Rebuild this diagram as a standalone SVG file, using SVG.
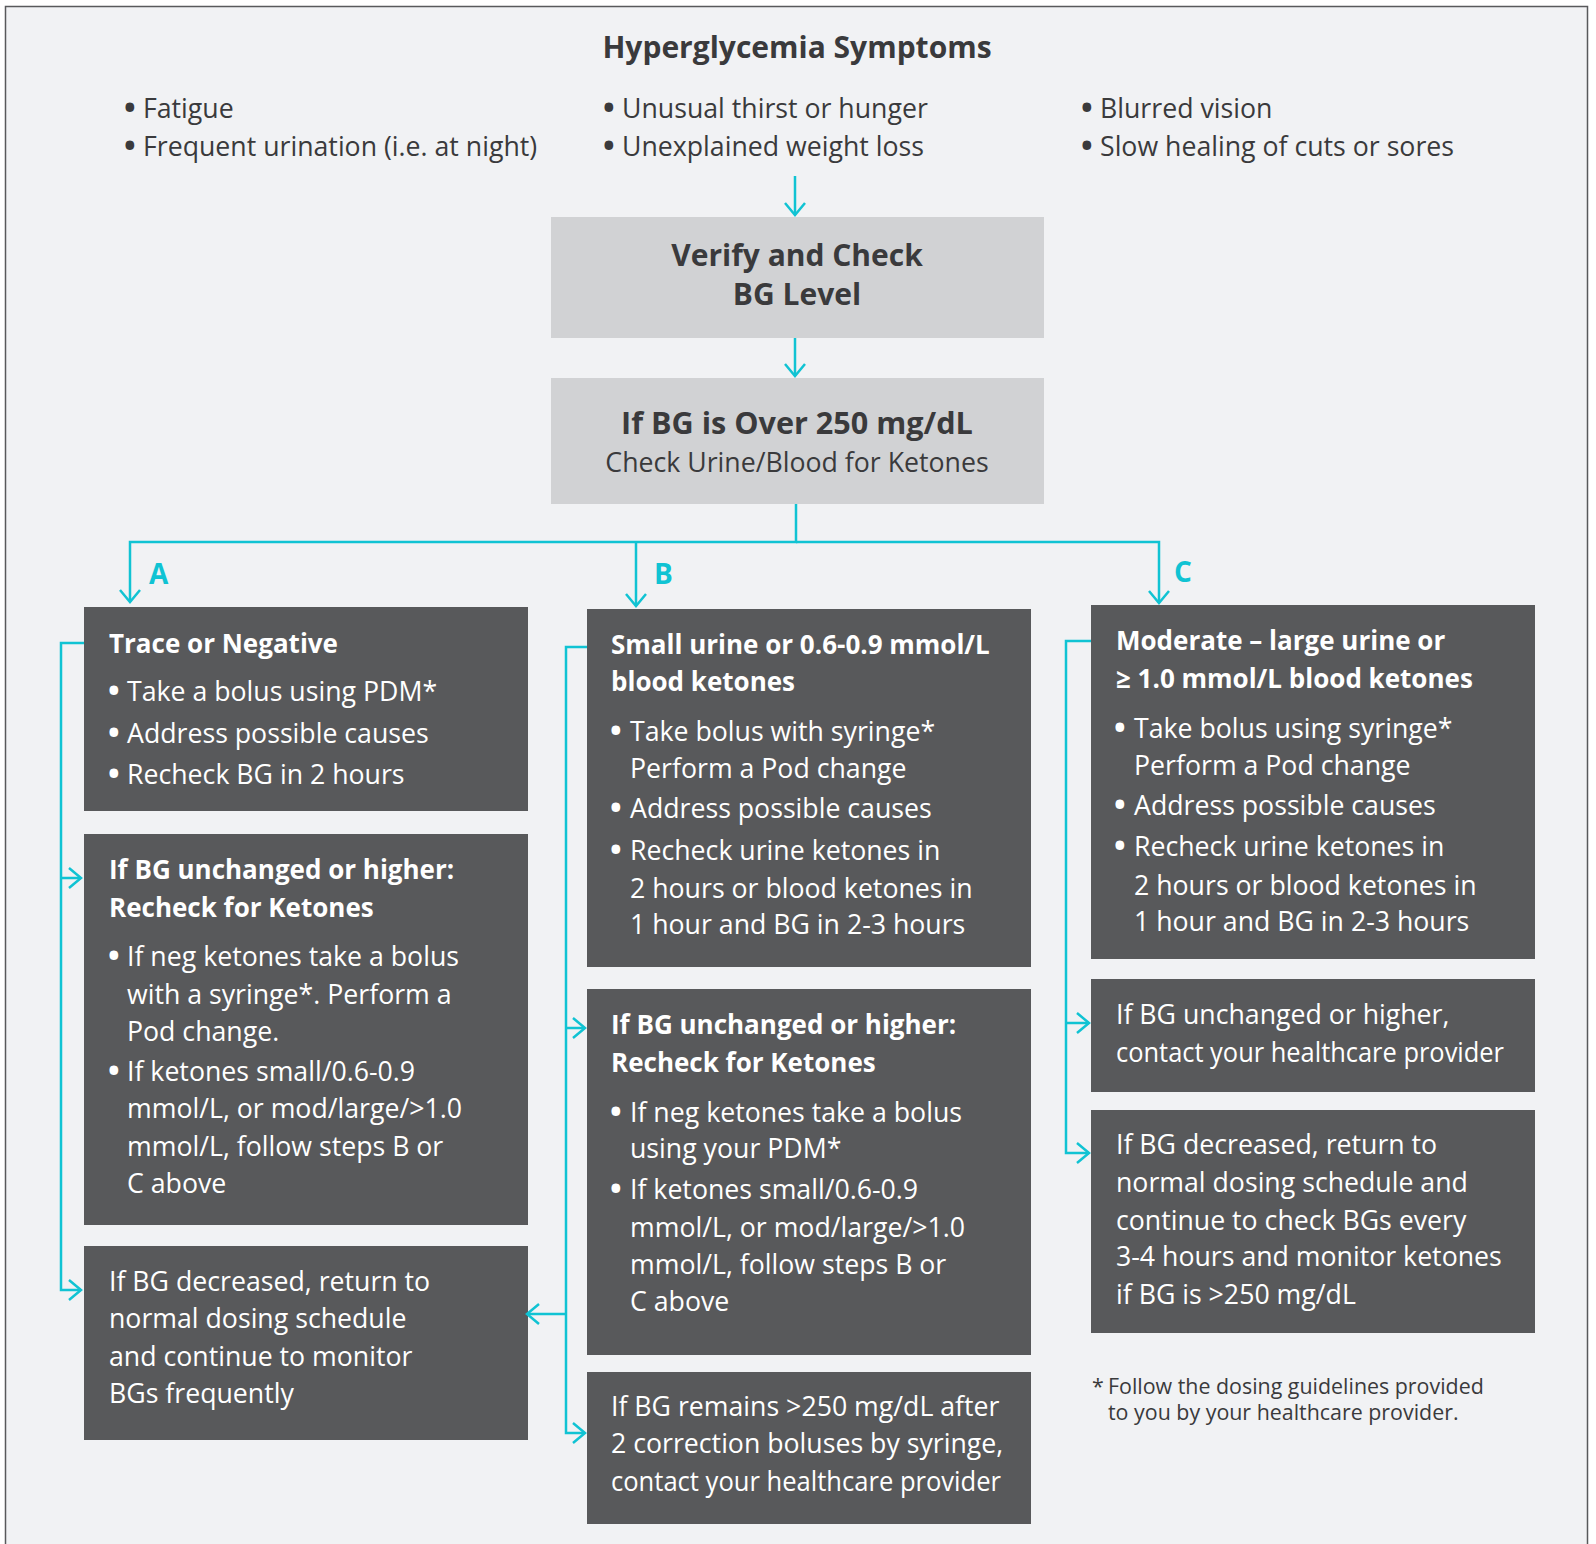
<svg xmlns="http://www.w3.org/2000/svg" width="1596" height="1544" viewBox="0 0 1596 1544">
<defs>
<style>
text{transform:translateY(1px)}
.bg{fill:#f1f2f4;stroke:#58595b;stroke-width:1.5}
.lb{fill:#d1d2d4}
.dk{fill:#58595b}
.t{font-family:"Open Sans","Liberation Sans",sans-serif;font-size:26.7px;fill:#3a3a3c}
.w{font-family:"Open Sans","Liberation Sans",sans-serif;font-size:26.7px;fill:#ffffff}
.wb{font-family:"Open Sans","Liberation Sans",sans-serif;font-size:26px;font-weight:700;fill:#ffffff}
.hb{font-family:"Open Sans","Liberation Sans",sans-serif;font-size:30px;font-weight:700;fill:#3a3a3c}
.fn{font-family:"Open Sans","Liberation Sans",sans-serif;font-size:21.4px;fill:#3a3a3c}
.lab{font-family:"Open Sans","Liberation Sans",sans-serif;font-size:28px;font-weight:700;fill:#10c3d3}
.b{font-size:31px;font-weight:700}
.c{fill:none;stroke:#10c3d3;stroke-width:2.5;marker-end:url(#arr)}
</style>
<marker id="arr" markerUnits="userSpaceOnUse" markerWidth="16" markerHeight="26" viewBox="-14 -13 16 26" refX="0" refY="0" orient="auto" overflow="visible">
<path d="M-12,-10 L0,0 L-12,10" fill="none" stroke="#10c3d3" stroke-width="2.5"/>
</marker>
</defs>
<rect x="0" y="0" width="1596" height="1544" fill="#ffffff"/>
<rect class="bg" x="5.5" y="6.5" width="1582" height="1560"/>

<g id="symptoms">
<text class="hb" x="797" y="57" text-anchor="middle">Hyperglycemia Symptoms</text>
<text class="t"><tspan class="b" x="124" y="117">•</tspan><tspan x="143" y="117">Fatigue</tspan><tspan class="b" x="124" y="155">•</tspan><tspan x="143" y="155">Frequent urination (i.e. at night)</tspan></text>
<text class="t"><tspan class="b" x="603" y="117">•</tspan><tspan x="622" y="117">Unusual thirst or hunger</tspan><tspan class="b" x="603" y="155">•</tspan><tspan x="622" y="155">Unexplained weight loss</tspan></text>
<text class="t"><tspan class="b" x="1081" y="117">•</tspan><tspan x="1100" y="117">Blurred vision</tspan><tspan class="b" x="1081" y="155">•</tspan><tspan x="1100" y="155">Slow healing of cuts or sores</tspan></text>
</g>

<g id="verify">
<rect class="lb" x="551" y="217" width="493" height="121"/>
<text class="hb" text-anchor="middle"><tspan x="797" y="265">Verify and Check</tspan><tspan x="797" y="304">BG Level</tspan></text>
</g>

<g id="over250">
<rect class="lb" x="551" y="378" width="493" height="126"/>
<text class="hb" x="797" y="433" text-anchor="middle" style="font-size:30.6px">If BG is Over 250 mg/dL</text>
<text class="t" x="797" y="471" text-anchor="middle">Check Urine/Blood for Ketones</text>
</g>

<g id="labels">
<text class="lab" x="149" y="583">A</text>
<text class="lab" x="654" y="583">B</text>
<text class="lab" x="1174" y="581">C</text>
</g>

<g id="a1">
<rect class="dk" x="84" y="607" width="444" height="204"/>
<text class="wb" x="109" y="652">Trace or Negative</text>
<text class="w"><tspan class="b" x="108" y="700">•</tspan><tspan x="127" y="700">Take a bolus using PDM*</tspan><tspan class="b" x="108" y="742">•</tspan><tspan x="127" y="742">Address possible causes</tspan><tspan class="b" x="108" y="783">•</tspan><tspan x="127" y="783">Recheck BG in 2 hours</tspan></text>
</g>

<g id="a2">
<rect class="dk" x="84" y="834" width="444" height="391"/>
<text class="wb"><tspan x="109" y="878">If BG unchanged or higher:</tspan><tspan x="109" y="916">Recheck for Ketones</tspan></text>
<text class="w"><tspan class="b" x="108" y="965">•</tspan><tspan x="127" y="965">If neg ketones take a bolus</tspan><tspan x="127" y="1003">with a syringe*. Perform a</tspan><tspan x="127" y="1040">Pod change.</tspan><tspan class="b" x="108" y="1080">•</tspan><tspan x="127" y="1080">If ketones small/0.6-0.9</tspan><tspan x="127" y="1117">mmol/L, or mod/large/&gt;1.0</tspan><tspan x="127" y="1155">mmol/L, follow steps B or</tspan><tspan x="127" y="1192">C above</tspan></text>
</g>

<g id="a3">
<rect class="dk" x="84" y="1246" width="444" height="194"/>
<text class="w"><tspan x="109" y="1290">If BG decreased, return to</tspan><tspan x="109" y="1327">normal dosing schedule</tspan><tspan x="109" y="1365">and continue to monitor</tspan><tspan x="109" y="1402">BGs frequently</tspan></text>
</g>

<g id="b1">
<rect class="dk" x="587" y="609" width="444" height="358"/>
<text class="wb"><tspan x="611" y="653">Small urine or 0.6-0.9 mmol/L</tspan><tspan x="611" y="690">blood ketones</tspan></text>
<text class="w"><tspan class="b" x="610" y="740">•</tspan><tspan x="630" y="740">Take bolus with syringe*</tspan><tspan x="630" y="777">Perform a Pod change</tspan><tspan class="b" x="610" y="817">•</tspan><tspan x="630" y="817">Address possible causes</tspan><tspan class="b" x="610" y="859">•</tspan><tspan x="630" y="859">Recheck urine ketones in</tspan><tspan x="630" y="897">2 hours or blood ketones in</tspan><tspan x="630" y="933">1 hour and BG in 2-3 hours</tspan></text>
</g>

<g id="b2">
<rect class="dk" x="587" y="989" width="444" height="366"/>
<text class="wb"><tspan x="611" y="1033">If BG unchanged or higher:</tspan><tspan x="611" y="1071">Recheck for Ketones</tspan></text>
<text class="w"><tspan class="b" x="610" y="1121">•</tspan><tspan x="630" y="1121">If neg ketones take a bolus</tspan><tspan x="630" y="1157">using your PDM*</tspan><tspan class="b" x="610" y="1198">•</tspan><tspan x="630" y="1198">If ketones small/0.6-0.9</tspan><tspan x="630" y="1236">mmol/L, or mod/large/&gt;1.0</tspan><tspan x="630" y="1273">mmol/L, follow steps B or</tspan><tspan x="630" y="1310">C above</tspan></text>
</g>

<g id="b3">
<rect class="dk" x="587" y="1372" width="444" height="152"/>
<text class="w"><tspan x="611" y="1415">If BG remains &gt;250 mg/dL after</tspan><tspan x="611" y="1452">2 correction boluses by syringe,</tspan></text>
<text class="w" x="611" y="1490" textLength="390" lengthAdjust="spacingAndGlyphs">contact your healthcare provider</text>
</g>

<g id="c1">
<rect class="dk" x="1091" y="605" width="444" height="354"/>
<text class="wb"><tspan x="1116" y="649">Moderate – large urine or</tspan><tspan x="1116" y="687">≥ 1.0 mmol/L blood ketones</tspan></text>
<text class="w"><tspan class="b" x="1114" y="737">•</tspan><tspan x="1134" y="737">Take bolus using syringe*</tspan><tspan x="1134" y="774">Perform a Pod change</tspan><tspan class="b" x="1114" y="814">•</tspan><tspan x="1134" y="814">Address possible causes</tspan><tspan class="b" x="1114" y="855">•</tspan><tspan x="1134" y="855">Recheck urine ketones in</tspan><tspan x="1134" y="894">2 hours or blood ketones in</tspan><tspan x="1134" y="930">1 hour and BG in 2-3 hours</tspan></text>
</g>

<g id="c2">
<rect class="dk" x="1091" y="979" width="444" height="113"/>
<text class="w" x="1116" y="1023">If BG unchanged or higher,</text>
<text class="w" x="1116" y="1061" textLength="388" lengthAdjust="spacingAndGlyphs">contact your healthcare provider</text>
</g>

<g id="c3">
<rect class="dk" x="1091" y="1110" width="444" height="223"/>
<text class="w"><tspan x="1116" y="1153">If BG decreased, return to</tspan><tspan x="1116" y="1191">normal dosing schedule and</tspan><tspan x="1116" y="1229">continue to check BGs every</tspan><tspan x="1116" y="1265">3-4 hours and monitor ketones</tspan><tspan x="1116" y="1303">if BG is &gt;250 mg/dL</tspan></text>
</g>

<g id="footnote">
<text class="fn"><tspan x="1092" y="1393">*</tspan><tspan x="1108" y="1393">Follow the dosing guidelines provided</tspan><tspan x="1108" y="1419">to you by your healthcare provider.</tspan></text>
</g>

<g id="connectors">
<path class="c" d="M795,176 V215"/>
<path class="c" d="M795,338 V376"/>
<path class="c" d="M796,504 V542 H130 V602"/>
<path class="c" d="M796,542 H1159 V603"/>
<path class="c" d="M636,542 V606"/>
<path class="c" d="M84,643 H61 V1290 H81"/>
<path class="c" d="M61,878 H81"/>
<path class="c" d="M587,647 H566 V1433 H585"/>
<path class="c" d="M566,1028 H585"/>
<path class="c" d="M566,1314 H527"/>
<path class="c" d="M1091,641 H1066 V1153 H1089"/>
<path class="c" d="M1066,1023 H1089"/>
</g>
</svg>
